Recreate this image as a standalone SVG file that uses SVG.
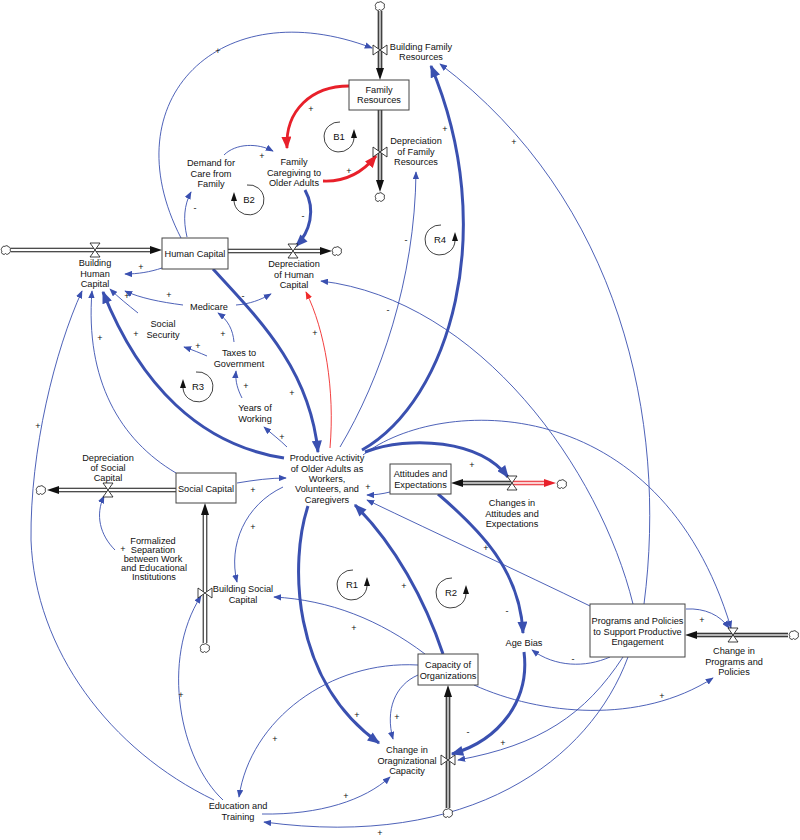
<svg xmlns="http://www.w3.org/2000/svg" width="800" height="840" viewBox="0 0 800 840">
<style>
text{font-family:'Liberation Sans',Arial,Helvetica,sans-serif;fill:#111;text-anchor:middle}
.t{font-size:9.2px}
.p{font-size:9px}
.l{font-size:9.5px}
.c{fill:none;stroke:#3a50b0;stroke-width:0.9;marker-end:url(#ma)}
.C{fill:none;stroke:#3a50b0;stroke-width:3;marker-end:url(#mA)}
.r{fill:none;stroke:#f02a2a;stroke-width:0.9;marker-end:url(#mr)}
.R{fill:none;stroke:#e8202a;stroke-width:2.8;marker-end:url(#mR)}
.box{fill:#fff;stroke:#444;stroke-width:1}
.po{stroke:#111;stroke-width:4.6}
.pw{stroke:#fff;stroke-width:2.6}
.pg{stroke:#b4b4b4;stroke-width:2.6}
.ah{fill:#111}
.v{fill:#fff;stroke:#111;stroke-width:0.8}
.cl{fill:#fff;stroke:#111;stroke-width:0.8}
.lp{fill:none;stroke:#111;stroke-width:0.8}
</style>
<defs>
<marker id="ma" viewBox="0 0 10 8" refX="9" refY="4" markerWidth="8" markerHeight="6.4" orient="auto" markerUnits="userSpaceOnUse"><path d="M0,0L10,4L0,8z" fill="#3a50b0"/></marker>
<marker id="mA" viewBox="0 0 10 8" refX="9" refY="4" markerWidth="13" markerHeight="10" orient="auto" markerUnits="userSpaceOnUse"><path d="M0,0L10,4L0,8z" fill="#3a50b0"/></marker>
<marker id="mr" viewBox="0 0 10 8" refX="9" refY="4" markerWidth="8" markerHeight="6.4" orient="auto" markerUnits="userSpaceOnUse"><path d="M0,0L10,4L0,8z" fill="#f02a2a"/></marker>
<marker id="mR" viewBox="0 0 10 8" refX="9" refY="4" markerWidth="13" markerHeight="10" orient="auto" markerUnits="userSpaceOnUse"><path d="M0,0L10,4L0,8z" fill="#e8202a"/></marker>
<path id="cloud" d="M-4,1a1.8,1.8 0 0 1 0,-3a2,2 0 0 1 3,-1.5a2,2 0 0 1 3.5,0.5a1.8,1.8 0 0 1 1.5,3a1.8,1.8 0 0 1 -1,3a2,2 0 0 1 -3.5,0.5a2,2 0 0 1 -3.5,-2.5z"/>
<path id="hg" d="M-5,-7L5,-7L-5,7L5,7Z"/>
<path id="bt" d="M-7,-5L-7,5L7,-5L7,5Z"/>
</defs>
<rect width="800" height="840" fill="#fff"/>

<g id="connectors">
<path class="c" d="M181,238 C110,100 220,-10 372,48"/>
<path class="c" d="M224,155 C236,143 258,143 273,151"/>
<path class="c" d="M187,237 C183,220 184,205 191,192"/>
<path class="R" d="M349,86 C312,86 285,110 287,148"/>
<path class="R" d="M323,181 C346,182 363,172 376,156"/>
<path class="C" d="M305,190 C316,210 310,232 296,246"/>
<path class="c" d="M340,447 C380,380 415,280 416,172"/>
<path class="C" d="M362,450 C450,400 500,230 431,66"/>
<path class="c" d="M644,604 C668,420 620,200 440,64"/>
<path class="c" d="M162,268 C150,272 138,274 125,274"/>
<path class="C" d="M213,269 C260,320 310,370 318,452"/>
<path class="c" d="M183,305 C160,302 140,298 125,291"/>
<path class="c" d="M236,305 C250,304 260,300 271,294"/>
<path class="c" d="M138,313 C128,305 118,297 110,289"/>
<path class="c" d="M207,356 C200,353 193,350 184,347"/>
<path class="c" d="M234,342 C233,330 228,320 218,313"/>
<path class="c" d="M242,398 C238,390 235,382 236,371"/>
<path class="c" d="M287,447 C280,440 272,434 264,427"/>
<path class="C" d="M284,458 C200,445 140,385 103,292"/>
<path class="c" d="M176,473 C120,440 85,380 92,291"/>
<path class="c" d="M214,800 C110,750 35,650 31,540 C30,450 55,350 82,291"/>
<path class="r" d="M330,448 C335,390 325,330 306,292"/>
<path class="c" d="M633,604 C600,470 480,300 321,281"/>
<path class="c" d="M237,483 C255,480 270,478 286,478"/>
<path class="c" d="M283,487 C245,505 228,545 237,582"/>
<path class="c" d="M115,550 C100,535 95,515 104,496"/>
<path class="c" d="M223,800 C180,760 160,660 201,596"/>
<path class="c" d="M425,654 C380,620 330,600 274,597"/>
<path class="C" d="M443,654 C425,600 395,545 355,505"/>
<path class="C" d="M308,506 C290,560 290,680 379,743"/>
<path class="c" d="M418,675 C395,685 385,710 393,739"/>
<path class="c" d="M418,665 C330,660 250,720 239,797"/>
<path class="c" d="M262,814 C320,815 365,800 390,777"/>
<path class="c" d="M628,657 C590,760 470,850 264,822"/>
<path class="c" d="M623,657 C585,715 540,745 458,760"/>
<path class="C" d="M524,652 C530,700 500,740 452,754"/>
<path class="C" d="M438,494 C480,530 520,570 523,633"/>
<path class="c" d="M590,606 C520,572 440,535 367,500"/>
<path class="c" d="M390,492 C382,494 374,495 367,495"/>
<path class="C" d="M365,452 C410,435 480,440 508,477"/>
<path class="c" d="M363,455 C440,395 660,390 731,628"/>
<path class="c" d="M610,657 C585,668 555,667 532,650"/>
<path class="c" d="M474,685 C540,715 640,725 713,678"/>
<path class="c" d="M686,609 C705,608 720,615 729,628"/>
</g>

<g id="polarities">
<text class="p" x="218" y="54">+</text>
<text class="p" x="262" y="159">+</text>
<text class="p" x="195" y="211">-</text>
<text class="p" x="311" y="112">+</text>
<text class="p" x="349" y="174">+</text>
<text class="p" x="303" y="219">-</text>
<text class="p" x="406" y="243">-</text>
<text class="p" x="445" y="132">+</text>
<text class="p" x="514" y="145">+</text>
<text class="p" x="141" y="270">+</text>
<text class="p" x="169" y="298">+</text>
<text class="p" x="127" y="299">+</text>
<text class="p" x="243" y="299">-</text>
<text class="p" x="198" y="349">+</text>
<text class="p" x="223" y="337">+</text>
<text class="p" x="246" y="389">+</text>
<text class="p" x="282" y="440">+</text>
<text class="p" x="292" y="396">+</text>
<text class="p" x="136" y="337">+</text>
<text class="p" x="100" y="341">+</text>
<text class="p" x="38" y="429">+</text>
<text class="p" x="315" y="336">+</text>
<text class="p" x="388" y="313">-</text>
<text class="p" x="253" y="493">+</text>
<text class="p" x="253" y="530">+</text>
<text class="p" x="123" y="552">+</text>
<text class="p" x="181" y="698">+</text>
<text class="p" x="354" y="631">+</text>
<text class="p" x="404" y="589">+</text>
<text class="p" x="357" y="718">+</text>
<text class="p" x="397" y="720">+</text>
<text class="p" x="275" y="742">+</text>
<text class="p" x="346" y="799">+</text>
<text class="p" x="380" y="836">+</text>
<text class="p" x="503" y="746">+</text>
<text class="p" x="468" y="735">-</text>
<text class="p" x="507" y="614">-</text>
<text class="p" x="486" y="551">+</text>
<text class="p" x="368" y="490">+</text>
<text class="p" x="472" y="468">+</text>
<text class="p" x="573" y="662">-</text>
<text class="p" x="662" y="699">+</text>
<text class="p" x="702" y="623">+</text>
</g>

<g id="pipes">
<line class="po" x1="380" y1="11" x2="380" y2="70"/><line class="pg" x1="380" y1="11" x2="380" y2="70"/>
<polygon class="ah" points="376,68 384,68 380,80"/>
<line class="po" x1="380" y1="110" x2="380" y2="182"/><line class="pg" x1="380" y1="110" x2="380" y2="182"/>
<polygon class="ah" points="376,180 384,180 380,192"/>
<line class="po" x1="11" y1="250" x2="152" y2="250"/><line class="pw" x1="11" y1="250" x2="152" y2="250"/>
<polygon class="ah" points="150,246 150,254 162,250"/>
<line class="po" x1="228" y1="251" x2="322" y2="251"/><line class="pw" x1="228" y1="251" x2="322" y2="251"/>
<polygon class="ah" points="320,247 320,255 332,251"/>
<line class="po" x1="57" y1="490" x2="176" y2="490"/><line class="pw" x1="57" y1="490" x2="176" y2="490"/>
<polygon class="ah" points="59,486 59,494 47,490"/>
<line class="po" x1="205" y1="643" x2="205" y2="513"/><line class="pw" x1="205" y1="643" x2="205" y2="513"/>
<polygon class="ah" points="201,515 209,515 205,503"/>
<line class="po" x1="461" y1="483" x2="512" y2="483"/><line class="pg" x1="461" y1="483" x2="512" y2="483"/>
<polygon class="ah" points="463,479 463,487 451,483"/>
<line x1="512" y1="483" x2="546" y2="483" stroke="#e8202a" stroke-width="4.6"/><line x1="512" y1="483" x2="546" y2="483" stroke="#fbd0d0" stroke-width="2.6"/>
<polygon fill="#e8202a" points="544,479 544,487 556,483"/>
<line class="po" x1="448" y1="808" x2="448" y2="695"/><line class="pg" x1="448" y1="808" x2="448" y2="695"/>
<polygon class="ah" points="444,697 452,697 448,685"/>
<line class="po" x1="788" y1="635" x2="695" y2="635"/><line class="pg" x1="788" y1="635" x2="695" y2="635"/>
<polygon class="ah" points="697,631 697,639 685,635"/>
<use href="#cloud" class="cl" x="380" y="6"/>
<use href="#cloud" class="cl" x="380" y="197"/>
<use href="#cloud" class="cl" x="6" y="250"/>
<use href="#cloud" class="cl" x="337" y="251"/>
<use href="#cloud" class="cl" x="41" y="490"/>
<use href="#cloud" class="cl" x="205" y="648"/>
<use href="#cloud" class="cl" x="562" y="484"/>
<use href="#cloud" class="cl" x="448" y="813"/>
<use href="#cloud" class="cl" x="794" y="635"/>
</g>

<g id="family-resources"><rect class="box" x="349" y="80" width="60" height="30"/><text class="t" x="379" y="93.3">Family</text><text class="t" x="379" y="103.3">Resources</text></g>
<g id="building-family-resources"><use href="#bt" class="v" x="380" y="50"/><text class="t" x="421" y="50.3">Building Family</text><text class="t" x="421" y="60.3">Resources</text></g>
<g id="depreciation-family-resources"><use href="#bt" class="v" x="380" y="152"/><text class="t" x="416" y="144">Depreciation</text><text class="t" x="416" y="155">of Family</text><text class="t" x="416" y="165.3">Resources</text></g>
<g id="family-caregiving"><text class="t" x="294" y="165.3">Family</text><text class="t" x="294" y="175.5">Caregiving to</text><text class="t" x="294" y="185.8">Older Adults</text></g>
<g id="demand-for-care"><text class="t" x="211" y="166.3">Demand for</text><text class="t" x="211" y="176.5">Care from</text><text class="t" x="211" y="186.8">Family</text></g>
<g id="human-capital"><rect class="box" x="162" y="238" width="66" height="31"/><text class="t" x="195" y="257.3">Human Capital</text></g>
<g id="building-human-capital"><use href="#hg" class="v" x="95" y="250"/><text class="t" x="95" y="266.3">Building</text><text class="t" x="95" y="276.5">Human</text><text class="t" x="95" y="287">Capital</text></g>
<g id="depreciation-human-capital"><use href="#hg" class="v" x="293" y="251"/><text class="t" x="294" y="267.3">Depreciation</text><text class="t" x="294" y="278">of Human</text><text class="t" x="294" y="288.3">Capital</text></g>
<g id="medicare"><text class="t" x="209" y="310.3">Medicare</text></g>
<g id="social-security"><text class="t" x="163" y="327.3">Social</text><text class="t" x="163" y="337.5">Security</text></g>
<g id="taxes"><text class="t" x="239" y="356.3">Taxes to</text><text class="t" x="239" y="366.5">Government</text></g>
<g id="years-of-working"><text class="t" x="255" y="411.3">Years of</text><text class="t" x="255" y="421.5">Working</text></g>
<g id="productive-activity"><text class="t" x="327" y="461.3">Productive Activity</text><text class="t" x="327" y="471.5">of Older Adults as</text><text class="t" x="327" y="482">Workers,</text><text class="t" x="327" y="492.3">Volunteers, and</text><text class="t" x="327" y="502.5">Caregivers</text></g>
<g id="attitudes"><rect class="box" x="390" y="464" width="61" height="30"/><text class="t" x="420.5" y="477.3">Attitudes and</text><text class="t" x="420.5" y="487.5">Expectations</text></g>
<g id="changes-attitudes"><use href="#hg" class="v" x="512" y="483"/><text class="t" x="512" y="506.3">Changes in</text><text class="t" x="512" y="516.5">Attitudes and</text><text class="t" x="512" y="527">Expectations</text></g>
<g id="social-capital"><rect class="box" x="176" y="473" width="60" height="30"/><text class="t" x="206" y="492.3">Social Capital</text></g>
<g id="depreciation-social-capital"><use href="#hg" class="v" x="108" y="490"/><text class="t" x="108" y="460.5">Depreciation</text><text class="t" x="108" y="470.5">of Social</text><text class="t" x="108" y="480.5">Capital</text></g>
<g id="formalized-separation"><text class="t" x="153" y="544.3">Formalized</text><text class="t" x="153" y="553.3">Separation</text><text class="t" x="153" y="562.3">between Work</text><text class="t" x="154" y="571.3">and Educational</text><text class="t" x="154" y="580.3">Institutions</text></g>
<g id="building-social-capital"><use href="#bt" class="v" x="205" y="593"/><text class="t" x="243" y="592.3">Building Social</text><text class="t" x="243" y="602.5">Capital</text></g>
<g id="age-bias"><text class="t" x="524" y="646.3">Age Bias</text></g>
<g id="capacity-of-organizations"><rect class="box" x="418" y="654" width="60" height="31"/><text class="t" x="448" y="668.3">Capacity of</text><text class="t" x="448" y="678.8">Organizations</text></g>
<g id="change-org-capacity"><use href="#bt" class="v" x="448" y="760"/><text class="t" x="407" y="753.3">Change in</text><text class="t" x="407" y="763.5">Oragnizational</text><text class="t" x="407" y="773.5">Capacity</text></g>
<g id="programs-policies"><rect class="box" x="590" y="604" width="95" height="53"/><text class="t" x="637.5" y="624.3">Programs and Policies</text><text class="t" x="637.5" y="634.5">to Support Productive</text><text class="t" x="637.5" y="645">Engagement</text></g>
<g id="change-programs-policies"><use href="#hg" class="v" x="733" y="635"/><text class="t" x="734" y="654.3">Change in</text><text class="t" x="734" y="664.5">Programs and</text><text class="t" x="734" y="674.5">Policies</text></g>
<g id="education-training"><text class="t" x="238" y="809.3">Education and</text><text class="t" x="238" y="819.5">Training</text></g>

<g id="loop-B1"><path class="lp" d="M340,122 A15,15 0 1 0 354,138"/><polygon class="ah" points="351,138 357,138 354,129"/><text class="l" x="339" y="140.3">B1</text></g>
<g id="loop-B2"><path class="lp" d="M247,185 A15,15 0 1 1 234,201"/><polygon class="ah" points="231,201 237,201 234,192"/><text class="l" x="249" y="203.3">B2</text></g>
<g id="loop-R4"><path class="lp" d="M441,225 A15,15 0 1 0 455,241"/><polygon class="ah" points="452,241 458,241 455,232"/><text class="l" x="440" y="243.3">R4</text></g>
<g id="loop-R3"><path class="lp" d="M196,372 A15,15 0 1 1 183,388"/><polygon class="ah" points="180,388 186,388 183,379"/><text class="l" x="198" y="390.3">R3</text></g>
<g id="loop-R1"><path class="lp" d="M353,570 A15,15 0 1 0 367,586"/><polygon class="ah" points="364,586 370,586 367,577"/><text class="l" x="352" y="588.3">R1</text></g>
<g id="loop-R2"><path class="lp" d="M452,578 A15,15 0 1 0 466,594"/><polygon class="ah" points="463,594 469,594 466,585"/><text class="l" x="451" y="596.3">R2</text></g>
</svg>
